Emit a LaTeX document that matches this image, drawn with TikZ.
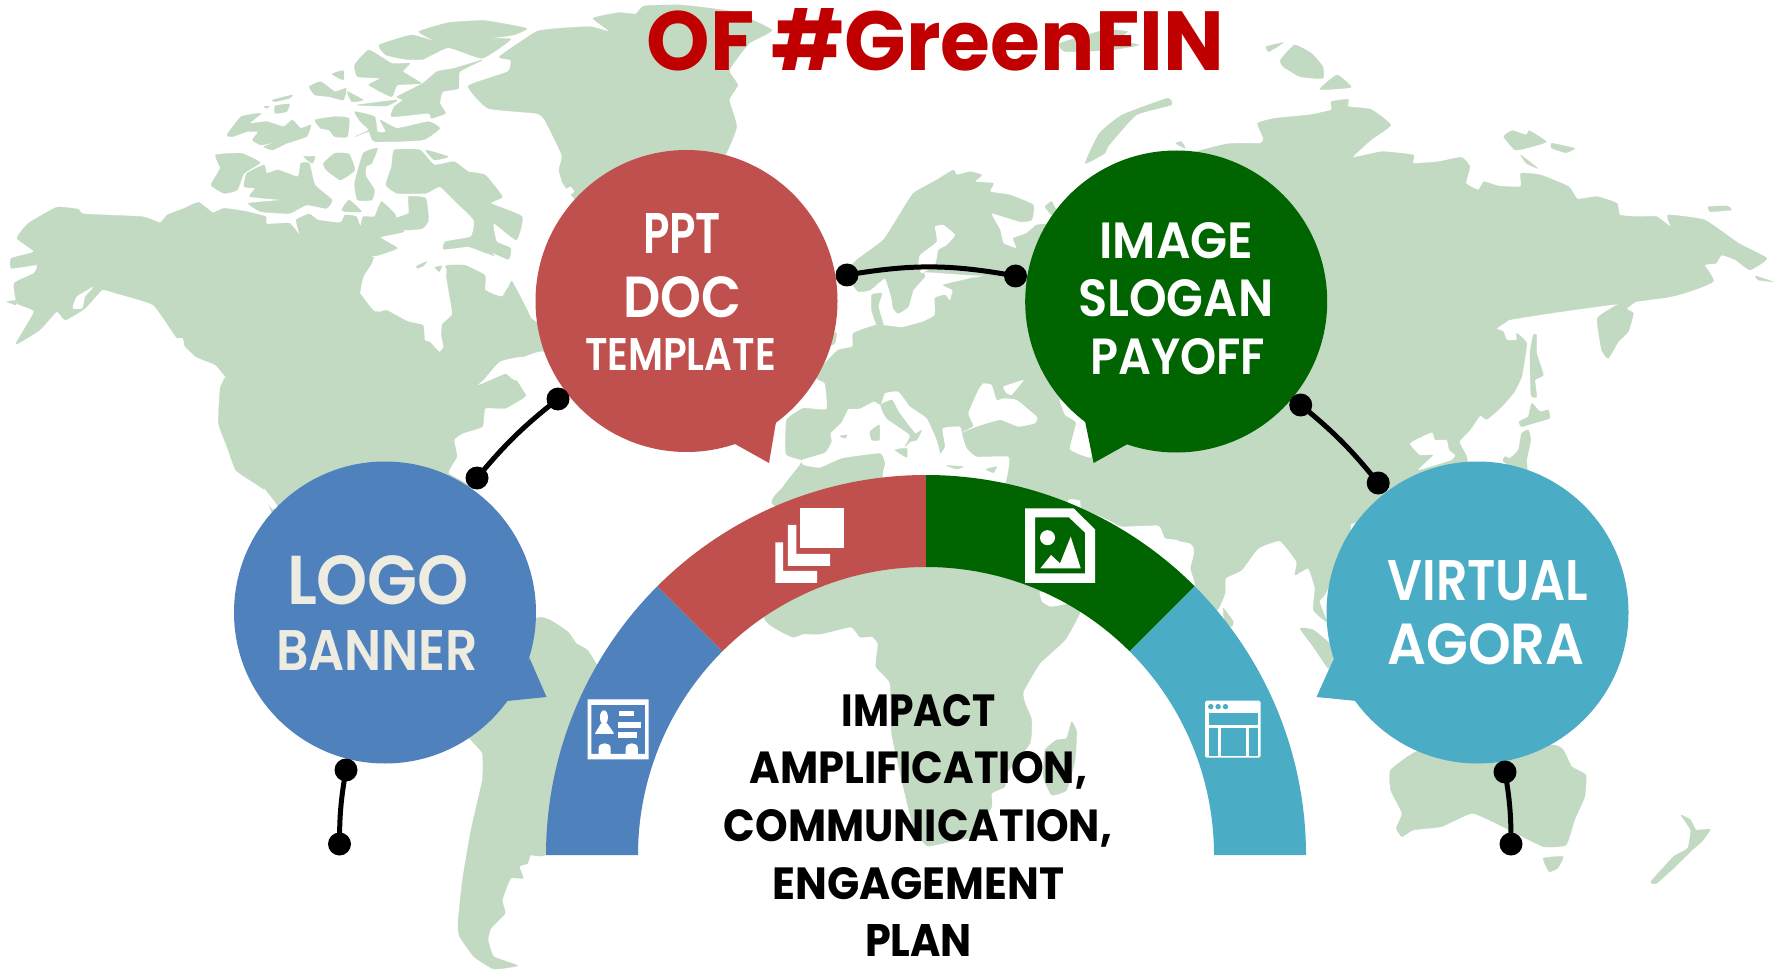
\documentclass[tikz,border=0pt]{standalone}
\usepackage{graphicx}
\usepackage{fontspec}
\setmainfont{Poppins}[BoldFont={Poppins Bold}]
\newfontfamily\semifont{Poppins SemiBold}
\definecolor{landc}{HTML}{C2D9C2}
\definecolor{cred}{HTML}{C0504D}
\definecolor{cgreen}{HTML}{006400}
\definecolor{cblue}{HTML}{4F81BD}
\definecolor{cteal}{HTML}{4BACC6}
\definecolor{cream}{HTML}{EEECE1}
\definecolor{titlered}{HTML}{C00000}
\newcommand{\landpoly}[1]{\fill[landc,draw=landc,line width=.3pt,line join=round] plot[smooth cycle,tension=.25] coordinates {#1};}
\newcommand{\seapoly}[1]{\fill[white] plot[smooth cycle,tension=.25] coordinates {#1};}
\newcommand{\fitline}[3]{\resizebox{#1pt}{#2pt}{\fontsize{40}{40}\selectfont\bfseries #3}}
\newcommand{\fitsemi}[3]{\resizebox{#1pt}{#2pt}{\fontsize{40}{40}\selectfont\semifont #3}}
\newcommand{\sector}[3]{\fill[#1] ([shift={(#2:380pt)}]arccentre) arc[start angle=#2,end angle=#3,radius=380pt] -- ([shift={(#3:288pt)}]arccentre) arc[start angle=#3,end angle=#2,radius=288pt] -- cycle;}
\tikzset{
 zone1/.style={x=.5675pt,y=-.3333pt},
 zone2/.style={x=.5657pt,y=-.3333pt,shift={(890pt,0pt)}},
 zone3/.style={x=.5675pt,y=-.3333pt,shift={(0pt,-480pt)}},
 zone4/.style={x=.5657pt,y=-.3333pt,shift={(890pt,-480pt)}},
 zone5/.style={x=.35714pt,y=-.3333pt,shift={(560pt,-490pt)}},
 zone6/.style={x=.3333pt,y=-.3333pt,shift={(770pt,-170pt)}},
 zone7/.style={x=.3333pt,y=-.3333pt,shift={(1050pt,-380pt)}},
 zone8/.style={x=.3333pt,y=-.3333pt,shift={(640pt,-640pt)}},
 zone9/.style={x=.3333pt,y=-.3333pt,shift={(1370pt,-220pt)}},
 zone10/.style={x=.3333pt,y=-.3333pt,shift={(300pt,-230pt)}},
 bubble/.style={circle,minimum size=302pt,inner sep=0pt,draw=none},
 dotnode/.style={circle,fill=black,minimum size=23pt,inner sep=0pt},
 linktrace/.style={line width=5pt,black},
 label/.style={anchor=base,inner sep=0pt,outer sep=0pt},
 lightlabel/.style={label,text=white},
 creamlabel/.style={label,text=cream},
 darklabel/.style={label,text=black},
}
\begin{document}
\begin{tikzpicture}[x=1pt,y=1pt]
\path[use as bounding box,fill=white] (0,0) rectangle (1777,-973);
% ---------- North America
\begin{scope}[zone1]
\landpoly{(30,715)(50,670)(100,622)(138,628)(148,642)(250,650)(282,668)(295,645)(325,625)(350,607)(375,638)(395,625)(435,635)(468,650)(470,672)(510,670)(528,705)(522,660)(545,642)(560,660)(600,668)(608,645)(628,650)(635,680)(640,650)(660,650)(672,605)(695,640)(700,660)(712,695)(670,712)(700,745)(660,770)(655,790)(640,830)(635,880)(660,935)(685,930)(720,965)(745,975)(755,1020)(775,1055)(780,960)(795,920)(785,800)(820,795)(855,825)(855,870)(885,890)(905,840)(945,960)(950,1000)(960,1060)(985,1140)(950,1125)(945,1100)(920,1070)(880,1085)(845,1155)(880,1110)(905,1140)(935,1150)(925,1190)(890,1225)(855,1225)(850,1280)(815,1300)(800,1320)(805,1370)(790,1420)(830,1470)(700,1600)(520,1600)(480,1540)(465,1470)(440,1440)(415,1410)(400,1340)(385,1270)(388,1165)(395,1135)(380,1095)(345,1070)(310,1010)(270,915)(205,880)(180,870)(150,925)(115,960)(100,935)(70,990)(28,1032)(60,935)(30,910)(25,850)(60,820)(65,795)(20,805)(20,775)(60,755)}
% white channels of the Pacific coast
\seapoly{(165,860)(135,890)(128,925)(145,925)(150,890)}
\seapoly{(308,1018)(322,1015)(326,1055)(314,1042)}
\seapoly{(350,1090)(380,1098)(398,1135)(372,1118)}
% Greenland
\landpoly{(1045,55)(1090,38)(1120,42)(1135,18)(1200,15)(1290,35)(1360,90)(1320,130)(1285,210)(1300,255)(1285,300)(1298,380)(1275,470)(1200,520)(1050,600)(1015,600)(992,550)(985,510)(990,465)(960,360)(945,340)(860,325)(825,258)(895,215)(900,180)(880,170)(945,95)(985,85)(1040,80)(1075,95)}
\seapoly{(992,575)(1005,560)(1012,575)(1000,590)}
% Arctic islands
\landpoly{(668,135)(725,105)(768,125)(738,95)(790,68)(855,62)(928,85)(905,105)(865,115)(900,118)(850,175)(790,143)(745,178)(715,178)(680,165)}
\landpoly{(625,195)(650,150)(690,190)(722,190)(710,215)(742,250)(700,255)(690,290)(650,255)(670,235)(630,230)}
\landpoly{(745,250)(770,215)(800,205)(850,180)(810,215)(808,265)(780,275)(775,310)(785,340)(760,355)(755,340)(690,350)(695,320)(710,300)(700,290)}
\landpoly{(585,222)(605,212)(605,240)}
\landpoly{(545,260)(565,245)(590,275)(610,265)(605,300)(580,290)(555,285)}
\landpoly{(612,275)(640,300)(620,305)}
\landpoly{(480,300)(515,285)(510,295)(485,305)}
\landpoly{(630,315)(700,300)(680,318)}
\landpoly{(465,320)(475,318)(470,325)}
\landpoly{(485,318)(510,312)(505,335)(485,340)}
\landpoly{(400,405)(425,350)(460,340)(440,370)(470,365)(500,380)(515,360)(530,385)(548,375)(540,410)(505,430)(480,450)(465,440)(490,425)(460,435)(445,420)(455,395)(435,395)(410,410)}
\landpoly{(555,360)(590,350)(615,355)(612,410)(590,410)(580,390)(565,385)}
\landpoly{(625,335)(660,350)(665,395)(680,395)(670,360)(700,385)(755,365)(775,385)(745,420)(660,425)(650,395)(625,410)(650,390)(635,365)}
\landpoly{(380,465)(425,460)(458,488)(430,520)(418,570)(395,580)(372,555)(388,505)}
\landpoly{(430,560)(435,520)(465,495)(470,520)(490,510)(525,530)(530,490)(545,490)(555,555)(585,600)(575,625)(540,615)(510,640)(460,635)(438,610)(495,600)(440,590)(450,565)}
\landpoly{(535,470)(555,470)(550,490)}
\landpoly{(570,490)(590,460)(615,462)(625,510)(600,540)(575,510)}
\landpoly{(640,460)(665,445)(655,490)(645,500)(645,530)(660,570)(655,600)(630,600)(625,550)}
\landpoly{(695,450)(740,450)(765,495)(800,485)(825,515)(855,525)(885,590)(865,610)(920,650)(910,720)(870,670)(875,725)(900,745)(895,780)(850,755)(825,740)(782,748)(785,725)(830,710)(835,660)(800,600)(775,560)(750,580)(700,580)(680,555)(690,500)}
\seapoly{(795,640)(808,635)(810,680)(797,665)}
\landpoly{(750,450)(790,470)(765,480)}
\landpoly{(602,630)(615,600)(637,635)(610,635)}
\landpoly{(720,590)(750,595)(755,660)(745,685)(715,690)(690,660)(720,640)}
\landpoly{(12,905)(28,902)(28,915)}
\end{scope}
% Hudson Bay, its strait and the St Lawrence
\begin{scope}[zone10]
\seapoly{(215,78)(250,95)(215,120)(180,190)(210,200)(235,245)(260,240)(320,272)(370,285)(375,330)(405,340)(418,365)(430,350)(420,290)(455,255)(452,220)(435,180)(440,120)(430,105)(395,75)(340,50)(290,70)(260,78)}
\seapoly{(395,75)(430,60)(510,55)(540,85)(610,105)(578,70)(630,90)(640,40)(700,0)(760,60)(720,270)(695,265)(680,235)(635,150)(625,170)(600,197)(560,180)(555,135)(495,105)(430,103)}
\seapoly{(535,465)(600,410)(660,385)(730,365)(775,460)(740,510)(690,510)(650,450)(620,430)}
\landpoly{(350,108)(380,95)(370,108)(352,115)}
\landpoly{(405,112)(425,108)(418,125)}
\end{scope}
% ---------- South America
\begin{scope}[zone3]
\seapoly{(465,25)(490,80)(480,88)(465,50)}
\landpoly{(800,700)(945,415)(1000,455)(1015,490)(1035,510)(1050,550)(1100,700)(1100,1000)(962,1125)(935,1125)(930,1150)(915,1160)(922,1195)(900,1195)(885,1260)(890,1300)(865,1345)(860,1380)(870,1430)(912,1457)(870,1467)(835,1430)(810,1370)(807,1330)(815,1200)(830,1050)(850,900)(850,820)(830,780)}
\end{scope}
% ---------- Europe, Africa north, Middle East
\begin{scope}[zone6]
\landpoly{(260,270)(340,210)(385,140)(430,70)(500,30)(550,0)(560,15)(600,5)(635,15)(615,35)(670,40)(660,65)(720,75)(790,105)(785,150)(750,155)(665,130)(690,180)(700,220)(740,235)(730,205)(770,190)(800,165)(840,165)(900,230)(900,320)(620,316)(465,306)(465,320)(430,360)(415,410)(385,430)(370,415)(365,385)(345,325)(300,360)(265,365)(245,340)(235,300)}
\landpoly{(620,322)(900,300)(900,1000)(30,1010)(40,950)(90,885)(95,870)(48,852)(50,750)(100,715)(170,718)(165,640)(140,625)(165,580)(205,540)(248,530)(250,490)(320,465)(395,472)(460,455)(495,435)(495,385)(525,375)(540,392)(548,360)(520,345)(590,328)}
\landpoly{(825,110)(845,95)(860,125)(845,135)}
\landpoly{(305,375)(335,370)(325,410)(340,465)(320,465)(305,420)}
\landpoly{(185,490)(200,490)(195,520)(180,525)}
\end{scope}
% ---------- Asia
\begin{scope}[zone2]
\landpoly{(595,432)(655,430)(660,415)(650,370)(680,355)(740,345)(780,330)(780,305)(810,298)(810,320)(850,328)(885,375)(850,420)(818,472)(870,455)(925,465)(925,490)(970,485)(1010,472)(1025,500)(1018,550)(1040,570)(1050,545)(1075,558)(1115,560)(1115,520)(1150,525)(1200,560)(1215,597)(1250,590)(1285,610)(1290,645)(1320,650)(1355,650)(1380,680)(1375,645)(1440,660)(1500,730)(1550,775)(1520,810)(1495,780)(1470,765)(1460,790)(1440,795)(1455,845)(1380,890)(1000,1000)(900,1470)(500,1470)(250,1000)(300,700)(500,480)}
\landpoly{(380,460)(345,490)(370,400)(410,345)(490,295)(497,315)(435,345)(385,440)}
\landpoly{(505,430)(515,425)(522,445)}
\landpoly{(665,140)(695,128)(670,155)}
\landpoly{(690,180)(715,135)(745,160)(765,200)(765,235)(725,230)(695,200)}
\landpoly{(760,268)(790,225)(815,262)}
\landpoly{(300,130)(380,90)(420,95)(400,120)(440,135)(390,150)(310,155)}
\landpoly{(1085,410)(1100,392)(1125,405)(1130,392)(1160,425)(1135,440)(1105,450)}
\landpoly{(1170,430)(1210,445)(1195,458)(1170,445)}
\landpoly{(1115,465)(1145,505)(1125,490)}
\landpoly{(1447,620)(1480,618)(1487,630)(1450,635)}
\landpoly{(1530,828)(1560,845)(1535,840)}
\end{scope}
\begin{scope}[zone9]
\landpoly{(900,20)(900,225)(845,232)(835,220)(770,265)(790,280)(775,335)(745,365)(715,415)(695,390)(682,295)(740,255)(800,205)(820,172)(795,170)(765,195)(760,178)(700,195)(662,240)(630,240)(590,225)(570,232)(495,222)(430,290)(380,325)(400,335)(410,360)(440,360)(440,340)(470,370)(455,470)(430,520)(385,570)(350,598)(330,587)(300,630)(268,665)(290,710)(290,750)(200,810)(0,900)(-300,900)(-300,20)}
\seapoly{(120,670)(185,638)(195,660)(230,660)(237,690)(255,705)(245,720)(145,750)(190,705)(150,705)}
\landpoly{(490,345)(500,345)(500,400)(520,465)(495,480)(500,530)(483,525)(480,400)}
\landpoly{(485,550)(510,575)(535,570)(538,595)(490,610)(455,620)(447,605)(475,590)}
\landpoly{(455,640)(475,630)(482,660)(470,720)(470,760)(400,725)(405,710)(420,715)(445,690)}
\end{scope}
\begin{scope}[zone7]
\landpoly{(0,0)(900,0)(900,460)(860,560)(832,630)(820,650)(808,665)(830,725)(790,690)(795,625)(775,565)(735,585)(740,545)(690,483)(625,505)(575,570)(527,595)(525,640)(500,690)(435,620)(420,570)(420,490)(0,400)}
\landpoly{(520,685)(550,725)(545,740)(525,730)}
\landpoly{(750,745)(790,750)(850,800)(850,830)(835,865)(790,800)}
\seapoly{(28,58)(45,105)(78,128)(60,208)(125,232)(105,122)(60,80)}
\seapoly{(55,360)(90,362)(95,385)(175,420)(215,440)(325,437)(345,475)(385,480)(365,490)(400,510)(420,490)(422,570)(432,618)(300,620)(50,450)}
\end{scope}
% ---------- Seas of Europe
\begin{scope}[zone6]
\seapoly{(495,170)(520,165)(555,195)(530,225)(505,240)(495,285)(455,310)(445,285)(450,255)(500,215)}
\seapoly{(95,870)(165,848)(185,815)(182,790)(215,757)(235,718)(270,716)(312,695)(332,705)(345,670)(385,665)(420,710)(470,745)(500,810)(510,850)(505,860)(525,830)(518,775)(570,770)(578,800)(590,835)(620,860)(715,860)(715,900)(700,950)(600,980)(450,980)(340,925)(345,880)(330,850)(215,865)(150,893)(100,885)}
\seapoly{(595,730)(625,660)(640,640)(665,645)(680,690)(700,685)(740,690)(800,740)(795,760)(745,770)(690,750)(620,770)(570,790)(610,768)}
\seapoly{(700,650)(760,630)(750,645)(725,675)(710,670)}
\landpoly{(332,705)(365,690)(375,705)(385,725)(435,790)(455,780)(440,810)(420,815)(405,830)(420,795)(350,745)}
\landpoly{(375,840)(410,835)(410,862)}
\landpoly{(300,785)(328,765)(328,810)(305,810)}
\landpoly{(210,798)(232,795)(225,805)}
\landpoly{(530,887)(580,890)(560,897)}
\landpoly{(648,898)(680,890)(670,908)}
\end{scope}
% ---------- Africa
\begin{scope}[zone8]
\landpoly{(373,-68)(456,-9)(489,-18)(543,-18)(633,-39)(660,-9)(697,-10)(714,12)(708,80)(750,130)(755,280)(790,440)(820,560)(862,618)(950,600)(1000,590)(1055,500)(1055,460)(1095,440)(1100,400)(1170,310)(1175,240)(1155,190)(1150,155)(1200,70)(1275,0)(1319,-80)(1350,-200)(1000,-300)(500,-300)}
\landpoly{(1215,330)(1250,300)(1280,295)(1295,245)(1310,275)(1305,360)(1280,450)(1235,465)(1210,410)}
\end{scope}
\begin{scope}[zone5]
\seapoly{(1345,305)(1350,335)(1375,350)(1425,340)(1440,320)}
\end{scope}
% ---------- Australia and New Zealand
\begin{scope}[zone4]
\landpoly{(885,870)(930,815)(1000,800)(1170,795)(1190,810)(1205,860)(1230,885)(1228,950)(1210,1020)(1195,1095)(1155,1100)(1095,1050)(1030,1000)(975,1040)(925,1050)(905,1070)(895,1045)(905,1000)(885,930)}
\landpoly{(1155,1135)(1190,1130)(1180,1165)(1165,1175)}
\landpoly{(1398,1005)(1415,1020)(1425,1050)(1450,1048)(1435,1085)(1418,1110)(1385,1165)(1355,1210)(1345,1205)(1385,1130)(1410,1105)(1415,1050)}
\end{scope}
% ---------- Half ring
\coordinate (arccentre) at (926,-855);
\sector{cblue}{180}{135}
\sector{cred}{135}{90}
\sector{cgreen}{90}{45}
\sector{cteal}{45}{0}
% ---------- Icons
\begin{scope}[zone5]
\fill[white] (672,54) rectangle (795,174);
\fill[white] (638,105) -- (662,105) -- (662,192) -- (756,192) -- (756,228) -- (638,228) -- cycle;
\fill[white] (603,157) -- (625,157) -- (625,243) -- (720,243) -- (720,279) -- (603,279) -- cycle;
\fill[white,even odd rule] (1302,55) -- (1438,55) -- (1498,118) -- (1498,279) -- (1302,279) -- cycle
  (1330,82) -- (1425,82) -- (1470,128) -- (1470,250) -- (1330,250) -- cycle;
\fill[white] (1365,143) circle[radius=7.5pt];
\fill[white] (1345,235) -- (1375,195) -- (1400,220) -- (1430,140) -- (1458,235) -- cycle;
\fill[white,even odd rule] (77,628) rectangle (248,808) (88,645) rectangle (238,792);
\fill[white] (123,682) ellipse[x radius=4pt,y radius=7pt];
\fill[white] (98,730) -- (115,700) -- (132,700) -- (150,728) -- (150,732) -- (98,732) -- cycle;
\fill[white] (165,662) rectangle (207,678);
\fill[white] (162,696) rectangle (227,714);
\fill[white] (162,726) rectangle (216,744);
\fill[white] (108,792) -- (108,775) .. controls (108,755) and (142,755) .. (142,775) -- (142,792) -- cycle;
\fill[white] (184,792) -- (184,775) .. controls (184,755) and (218,755) .. (218,775) -- (218,792) -- cycle;
\end{scope}
\begin{scope}[zone4]
\fill[white,rounded corners=1.5pt] (557,662) rectangle (655,833);
\fill[cteal] (563,700) rectangle (651,735);
\fill[cteal] (563,745) rectangle (580,827);
\fill[cteal] (585,745) rectangle (630,827);
\fill[cteal] (635,745) rectangle (651,827);
\foreach \px in {567,580,593}{\fill[cteal] (\px,680) circle[radius=2.7pt];}
\end{scope}
% ---------- Bubbles
\node[bubble,fill=cred] (redbub) at (686.5,-301) {};
\fill[cred] (735,-444) -- (769,-463) -- (776,-422) -- cycle;
\node[bubble,fill=cgreen] (greenbub) at (1176.2,-301.5) {};
\fill[cgreen] (1085,-421) -- (1093.6,-463) -- (1127.6,-444) -- cycle;
\node[bubble,fill=cblue] (bluebub) at (385,-612.5) {};
\fill[cblue] (529.5,-658) -- (546.5,-697) -- (507,-701) -- cycle;
\node[bubble,fill=cteal] (tealbub) at (1477.5,-612.5) {};
\fill[cteal] (1334,-658) -- (1316.5,-697) -- (1356.7,-701) -- cycle;
% ---------- Connectors
\node[dotnode] (a1) at (558,-399) {};
\node[dotnode] (a2) at (477,-478) {};
\node[dotnode] (b1) at (847,-275) {};
\node[dotnode] (b2) at (1015.5,-276) {};
\node[dotnode] (c1) at (1300.7,-405) {};
\node[dotnode] (c2) at (1378.2,-483) {};
\node[dotnode] (d1) at (346,-770) {};
\node[dotnode] (d2) at (339.5,-844) {};
\node[dotnode] (e1) at (1505,-772) {};
\node[dotnode] (e2) at (1511,-844) {};
\draw[linktrace] (a1.center) to[bend right=6] (a2.center);
\draw[linktrace] (b1.center) to[bend left=10] (b2.center);
\draw[linktrace] (c1.center) to[bend left=6] (c2.center);
\draw[linktrace] (d1.center) to[bend right=5] (d2.center);
\draw[linktrace] (e1.center) to[bend left=5] (e2.center);
% ---------- Text
\node[label,text=titlered] (title) at (935.3,-70.7) {\fitline{577}{62}{OF \#GreenFIN}};
\node[lightlabel] (t1) at (682,-253.5) {\fitsemi{78}{40}{PPT}};
\node[lightlabel] (t2) at (682,-318) {\fitsemi{118}{41}{DOC}};
\node[lightlabel] (t3) at (680.5,-370.5) {\fitsemi{191}{32}{TEMPLATE}};
\node[lightlabel] (t4) at (1176.3,-258.5) {\fitsemi{154}{36}{IMAGE}};
\node[lightlabel] (t5) at (1175.7,-317) {\fitsemi{195}{37}{SLOGAN}};
\node[lightlabel] (t6) at (1177.6,-374.5) {\fitsemi{175}{36}{PAYOFF}};
\node[creamlabel] (t7) at (378,-604) {\fitsemi{182}{49}{LOGO}};
\node[creamlabel] (t8) at (377,-670) {\fitsemi{202}{40}{BANNER}};
\node[lightlabel] (t9) at (1487.6,-600.5) {\fitsemi{200}{40}{VIRTUAL}};
\node[lightlabel] (t10) at (1486,-664) {\fitsemi{197}{41}{AGORA}};
\node[darklabel] (c1t) at (918.5,-726.5) {\fitline{154}{32}{IMPACT}};
\node[darklabel] (c2t) at (918.5,-783.5) {\fitline{337}{32}{AMPLIFICATION,}};
\node[darklabel] (c3t) at (918,-841.5) {\fitline{388}{32}{COMMUNICATION,}};
\node[darklabel] (c4t) at (918.5,-899.5) {\fitline{292}{32}{ENGAGEMENT}};
\node[darklabel] (c5t) at (918.5,-956.5) {\fitline{107}{32}{PLAN}};
\end{tikzpicture}
\end{document}
